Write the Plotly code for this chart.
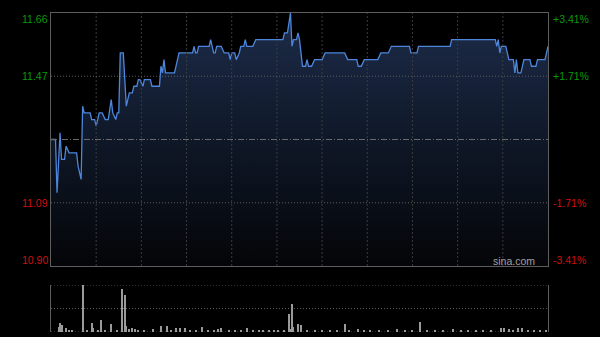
import plotly.graph_objects as go

# ---- data ----
prev_close = 11.28
price_min = [0, 3, 4, 6, 7, 9, 10, 12, 17, 18, 20, 21, 22, 26, 27, 29, 30, 32, 34, 36, 38, 40, 41, 43, 44, 45,
             46, 48, 50, 52, 54, 55, 57, 58, 59, 61, 62, 66, 67, 72, 73, 74, 75, 76, 82, 84, 85, 94, 95, 96, 97,
             98, 105, 106, 108, 109, 110, 113, 115, 118, 119, 120, 122, 123, 125, 126, 128, 129, 130, 134, 136,
             154, 155, 157, 159, 160, 161, 163, 164, 165, 167, 169, 170, 171, 173, 175, 180, 182, 195, 197, 203,
             204, 206, 208, 217, 219, 224, 226, 238, 239, 243, 244, 265, 266, 295, 296, 297, 298, 299, 302, 304,
             307, 308, 309, 310, 312, 314, 318, 319, 322, 323, 328, 330]
price_val = [11.28, 11.28, 11.12, 11.30, 11.22, 11.22, 11.26, 11.24, 11.24, 11.20, 11.16, 11.38, 11.36, 11.36,
             11.34, 11.34, 11.32, 11.36, 11.36, 11.34, 11.34, 11.40, 11.36, 11.34, 11.36, 11.36,
             11.54, 11.54, 11.38, 11.42, 11.42, 11.44, 11.44, 11.46, 11.46, 11.44, 11.46, 11.46, 11.44, 11.44,
             11.50, 11.48, 11.52, 11.48, 11.48, 11.52, 11.54, 11.54, 11.56, 11.54, 11.54,
             11.56, 11.56, 11.58, 11.54, 11.54, 11.56, 11.56, 11.54, 11.54, 11.52, 11.54, 11.54, 11.52, 11.54,
             11.56, 11.56, 11.58, 11.56, 11.56, 11.58,
             11.58, 11.60, 11.60, 11.66, 11.56, 11.58, 11.58, 11.60, 11.58, 11.50, 11.50, 11.52, 11.50, 11.50,
             11.52, 11.52, 11.54, 11.54, 11.52, 11.52,
             11.50, 11.50, 11.52, 11.52, 11.54, 11.54, 11.56, 11.56, 11.54, 11.54, 11.56, 11.56, 11.58, 11.58,
             11.56, 11.58, 11.54, 11.56, 11.56, 11.52,
             11.52, 11.48, 11.52, 11.48, 11.48, 11.52, 11.52, 11.50, 11.50, 11.52, 11.52, 11.56]

vol_min = [5, 6, 7, 10, 12, 14, 21, 24, 27, 28, 31, 33, 36, 40, 44, 47, 49, 50, 52, 54, 56, 58, 62, 68, 73, 77,
           80, 83, 86, 89, 92, 96, 100, 104, 108, 111, 113, 118, 122, 126, 130, 134, 138, 141, 145, 148, 151,
           155, 158, 159, 160, 161, 164, 166, 170, 175, 180, 185, 190, 195, 198, 204, 208, 212, 218, 224, 230,
           235, 240, 245, 250, 255, 260, 267, 272, 277, 282, 287, 292, 299, 301, 304, 307, 310, 313, 317, 321,
           325, 329]
vol_val = [11, 20, 14, 9, 4, 3, 100, 3, 20, 9, 5, 25, 4, 18, 5, 92, 78, 12, 6, 8, 6, 5, 3, 6, 13, 13,
           3, 8, 9, 8, 5, 3, 11, 4, 3, 6, 9, 3, 4, 3, 9, 3, 3, 5, 3, 3, 5,
           3, 39, 6, 59, 11, 17, 14, 4, 3, 4, 3, 3, 18, 3, 7, 3, 3, 4, 3, 7,
           3, 3, 21, 3, 3, 3, 6, 3, 4, 3, 4, 3, 9, 9, 7, 3, 9, 8, 3, 3,
           3, 4]

left_vals = [11.66, 11.47, 11.09, 10.90]
left_text = ["11.66", "11.47", "11.09", "10.90"]
right_text = ["+3.41%", "+1.71%", "-1.71%", "-3.41%"]
label_colors = ["#0a9a0a", "#0a9a0a", "#cc1111", "#cc1111"]
label_shift = [-6, 0, 0, 6]
grid_minutes = [30, 60, 90, 120, 150, 180, 210, 240, 270, 300]
grid_prices = [11.47, 11.09]
vol_grid = [0, 50, 100]

# ---- figure ----
fig = go.Figure()
fig.add_trace(go.Scatter(
    x=price_min, y=price_val, mode="lines",
    line=dict(color="#4d86dc", width=1.3),
    fill="tozeroy",
    fillgradient=dict(type="vertical", start=10.90, stop=11.66,
                      colorscale=[[0, "#040508"], [0.5, "#0f1828"], [1, "#1d2c4a"]]),
    xaxis="x", yaxis="y", hoverinfo="skip"))

fig.add_trace(go.Bar(
    x=vol_min, y=vol_val, width=0.7, marker=dict(color="#9a9a9a", line=dict(width=0)),
    xaxis="x2", yaxis="y2", hoverinfo="skip"))

line_col = "#5e5e5e"
fig.update_layout(
    width=600, height=337,
    margin=dict(l=51, r=52, t=13, b=5),
    paper_bgcolor="#000000", plot_bgcolor="#000000",
    showlegend=False, hovermode=False,
    bargap=0,
    xaxis=dict(domain=[0, 1], range=[0, 330], anchor="y",
               showticklabels=False, ticks="", showgrid=False,
               showline=True, linecolor=line_col, mirror=True, zeroline=False),
    yaxis=dict(domain=[0.2069, 1], range=[10.90, 11.66], anchor="x",
               showticklabels=False, ticks="", showgrid=False,
               showline=True, linecolor=line_col, mirror=True, zeroline=False),
    xaxis2=dict(domain=[0, 1], range=[0, 330], anchor="y2",
                showticklabels=False, ticks="", showgrid=False, showline=False, zeroline=False),
    yaxis2=dict(domain=[0, 0.1473], range=[0, 100], anchor="x2",
                showticklabels=False, ticks="", showgrid=False,
                showline=True, linecolor=line_col, mirror=True, zeroline=False),
)

for m in grid_minutes:
    fig.add_shape(type="line", xref="x", yref="y domain", x0=m, x1=m, y0=0, y1=1,
                  line=dict(color="#3c3c3c", width=1, dash="2px,2px"), layer="above")
for p in grid_prices:
    fig.add_shape(type="line", xref="x domain", yref="y", x0=0, x1=1, y0=p, y1=p,
                  line=dict(color="#5c5c5c", width=1, dash="1px,2px"), layer="above")
fig.add_shape(type="line", xref="x domain", yref="y", x0=0, x1=1, y0=prev_close, y1=prev_close,
              line=dict(color="#6a6a6a", width=1, dash="6px,2px,1px,2px"), layer="above")
for g in vol_grid:
    fig.add_shape(type="line", xref="x2 domain", yref="y2", x0=0, x1=1, y0=g, y1=g,
                  line=dict(color="#5c5c5c", width=1, dash="1px,2px"), layer="below")

annotations = []
for v, lt, rt, c, s in zip(left_vals, left_text, right_text, label_colors, label_shift):
    annotations.append(dict(x=0, xref="paper", y=v, yref="y", text=lt, showarrow=False,
                            xanchor="right", yanchor="middle", xshift=-1, yshift=s,
                            font=dict(family="Arial, Liberation Sans", size=10.5, color=c)))
    annotations.append(dict(x=1, xref="paper", y=v, yref="y", text=rt, showarrow=False,
                            xanchor="left", yanchor="middle", xshift=3, yshift=s,
                            font=dict(family="Arial, Liberation Sans", size=10.5, color=c)))
annotations.append(dict(x=0.978, xref="paper", y=10.90, yref="y", text="sina.com", showarrow=False,
                        xanchor="right", yanchor="bottom", yshift=-3,
                        font=dict(family="Arial, Liberation Sans", size=10.5, color="#a0a0a0")))
fig.update_layout(annotations=annotations)

fig.write_html("out.html")
